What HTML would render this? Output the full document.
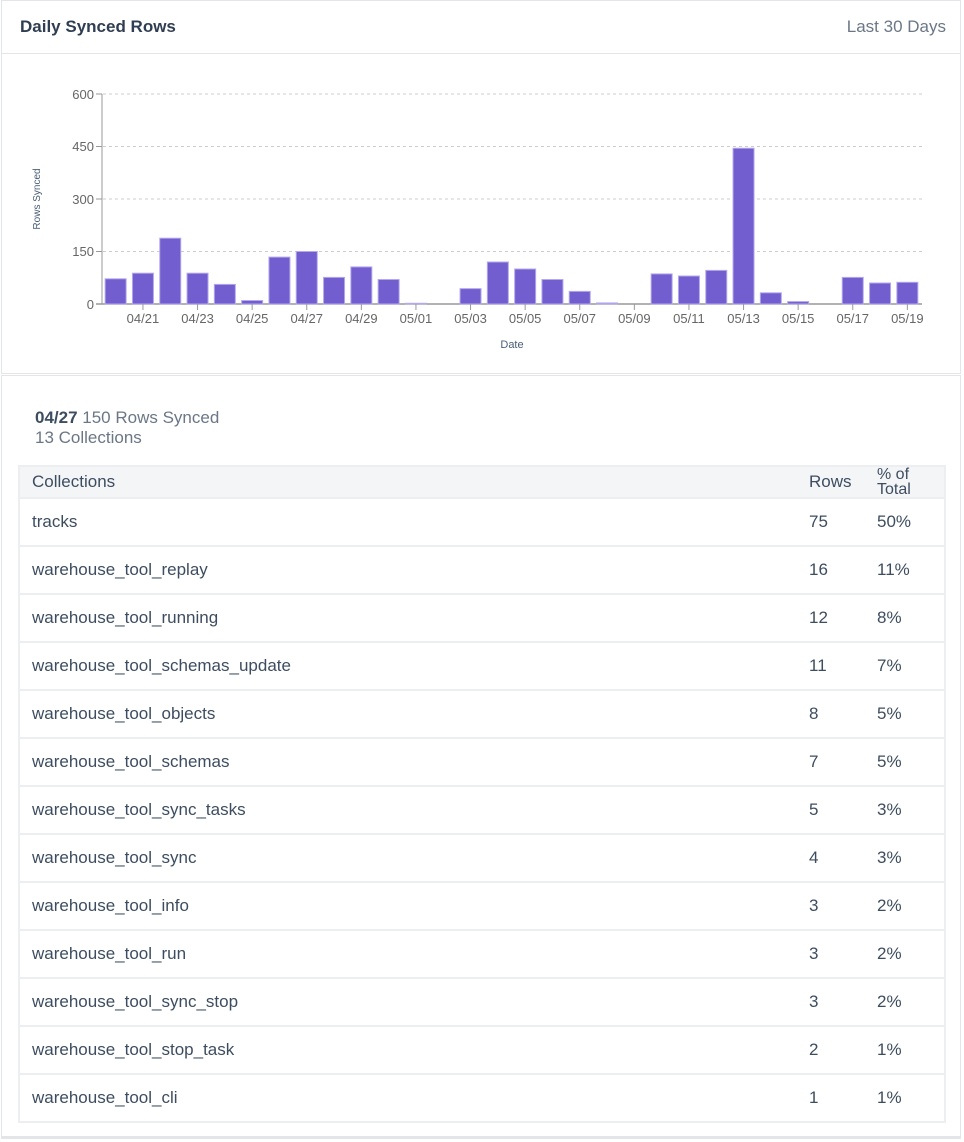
<!DOCTYPE html>
<html><head><style>
body{margin:0;width:964px;height:1142px;background:#fff;font-family:"Liberation Sans",sans-serif;color:#3d4d60;position:relative;overflow:hidden}
.card1{position:absolute;left:1px;top:0;width:960px;height:374px;border:1px solid #e3e5e8;box-sizing:border-box}
.hdr{position:absolute;left:0;top:0;width:100%;height:53px;border-bottom:1px solid #e3e5e8;box-sizing:border-box}
.card2{position:absolute;left:1px;top:375px;width:960px;height:764px;border:1px solid #e3e5e8;border-bottom:3px solid #e3e5e8;box-sizing:border-box}
table{position:absolute;left:18px;top:465px;width:928px;border-collapse:collapse;font-size:17px;border:2px solid #eceef1}
td{border-top:2px solid #eceef1;border-bottom:2px solid #eceef1;height:48px;padding:0 0 0 12px;color:#3d4d60;box-sizing:border-box}
thead td{background:#f4f5f7;height:30px}
</style></head><body>
<div class="card1"><div class="hdr">
<div style="position:absolute;left:18px;top:16px;font-size:17px;font-weight:bold;color:#2f3e52">Daily Synced Rows</div>
<div style="position:absolute;right:14px;top:16px;font-size:17px;color:#6b7787">Last 30 Days</div></div></div>
<svg width="964" height="375" style="position:absolute;left:0;top:0" font-family="Liberation Sans, sans-serif">
<g stroke="#ccc" stroke-dasharray="3,3"><line x1="103" x2="922" y1="94" y2="94"/><line x1="103" x2="922" y1="146.5" y2="146.5"/><line x1="103" x2="922" y1="199" y2="199"/><line x1="103" x2="922" y1="251.5" y2="251.5"/></g>
<g fill="#666" font-size="13" text-anchor="end"><text x="94" y="99">600</text><text x="94" y="151">450</text><text x="94" y="204">300</text><text x="94" y="256">150</text><text x="94" y="309">0</text></g>
<g stroke="#999"><line x1="102" x2="102" y1="94" y2="304"/><line x1="96" x2="102" y1="94" y2="94"/><line x1="96" x2="102" y1="146.5" y2="146.5"/><line x1="96" x2="102" y1="199" y2="199"/><line x1="96" x2="102" y1="251.5" y2="251.5"/><line x1="96" x2="922" y1="304" y2="304" stroke-width="1.5"/></g>
<text transform="translate(40,199) rotate(-90)" text-anchor="middle" font-size="10" fill="#4a5e78">Rows Synced</text>
<text x="512" y="348" text-anchor="middle" font-size="11" fill="#4a5e78">Date</text>
<g id="bars" fill="#735ecf" stroke="#b5a8ec" stroke-width="1"></g>
<g id="ticks" fill="#666" font-size="13" text-anchor="middle"></g>
</svg>
<script>
var v=[72,88,188,88,56,10,134,150,76,106,70,2,0,44,120,100,70,36,3,0,86,80,96,445,32,7,0,76,60,62];
var lab=["04/21","04/23","04/25","04/27","04/29","05/01","05/03","05/05","05/07","05/09","05/11","05/13","05/15","05/17","05/19"];
var b=document.getElementById('bars'),t=document.getElementById('ticks'),s='',u='',bw=27.3;
for(var i=0;i<30;i++){var cx=102+bw*(i+0.5),h=v[i]*0.35;if(h>0)s+='<rect x="'+(cx-10.5)+'" y="'+(304-h)+'" width="21" height="'+h+'"/>';}
for(var j=0;j<15;j++){var cx=102+bw*(2*j+1.5);u+='<line x1="'+cx+'" x2="'+cx+'" y1="304" y2="310" stroke="#999"/><text x="'+cx+'" y="323">'+lab[j]+'</text>';}
b.innerHTML=s;t.innerHTML=u;
</script>
<div class="card2"></div>
<div style="position:absolute;left:35px;top:408px;font-size:17px;color:#6b7787"><b style="color:#3d4d60">04/27</b> 150 Rows Synced<br>13 Collections</div>
<table><thead><tr><td>Collections</td><td style="width:80px">Rows</td><td style="width:68px;font-size:16px;line-height:15px;padding-left:0">% of<br>Total</td></tr></thead><tbody>
<tr><td>tracks</td><td>75</td><td style="padding-left:0">50%</td></tr>
<tr><td>warehouse_tool_replay</td><td>16</td><td style="padding-left:0">11%</td></tr>
<tr><td>warehouse_tool_running</td><td>12</td><td style="padding-left:0">8%</td></tr>
<tr><td>warehouse_tool_schemas_update</td><td>11</td><td style="padding-left:0">7%</td></tr>
<tr><td>warehouse_tool_objects</td><td>8</td><td style="padding-left:0">5%</td></tr>
<tr><td>warehouse_tool_schemas</td><td>7</td><td style="padding-left:0">5%</td></tr>
<tr><td>warehouse_tool_sync_tasks</td><td>5</td><td style="padding-left:0">3%</td></tr>
<tr><td>warehouse_tool_sync</td><td>4</td><td style="padding-left:0">3%</td></tr>
<tr><td>warehouse_tool_info</td><td>3</td><td style="padding-left:0">2%</td></tr>
<tr><td>warehouse_tool_run</td><td>3</td><td style="padding-left:0">2%</td></tr>
<tr><td>warehouse_tool_sync_stop</td><td>3</td><td style="padding-left:0">2%</td></tr>
<tr><td>warehouse_tool_stop_task</td><td>2</td><td style="padding-left:0">1%</td></tr>
<tr><td>warehouse_tool_cli</td><td>1</td><td style="padding-left:0">1%</td></tr>
</tbody></table>
</body></html>
